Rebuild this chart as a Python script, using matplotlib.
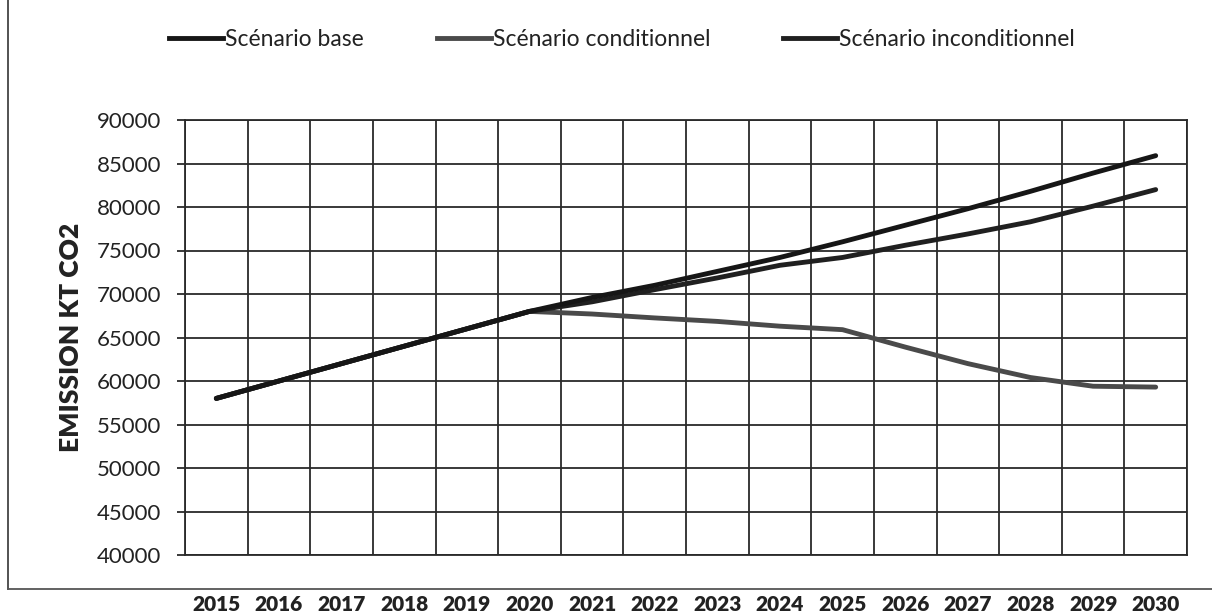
import matplotlib
matplotlib.use("Agg")
import matplotlib.pyplot as plt
from matplotlib.lines import Line2D
from matplotlib.ticker import MultipleLocator, FixedLocator

years = [2015, 2016, 2017, 2018, 2019, 2020, 2021, 2022, 2023, 2024, 2025,
         2026, 2027, 2028, 2029, 2030]
base = [58000, 60000, 62000, 64000, 66000, 68000, 69600, 71000, 72600, 74200,
        76000, 77900, 79800, 81800, 83900, 85900]
conditionnel = [58000, 60000, 62000, 64000, 66000, 68000, 67700, 67250, 66850,
                66300, 65900, 63900, 62000, 60400, 59400, 59300]
inconditionnel = [58000, 60000, 62000, 64000, 66000, 68000, 69100, 70500, 71850,
                  73300, 74200, 75600, 76900, 78300, 80100, 82000]
series_names = ["Scénario base", "Scénario conditionnel", "Scénario inconditionnel"]
y_label = "EMISSION KT CO2"

plt.rcParams['font.family'] = ['Lato', 'DejaVu Sans']

W, H = 1212, 615
fig = plt.figure(figsize=(W / 100, H / 100), dpi=100)
ax = fig.add_axes([185 / W, 1 - 555 / H, (1187 - 185) / W, (555 - 120) / H])

x = list(range(len(years)))
c_base = "#161616"
c_cond = "#4a4a4a"
c_incond = "#202020"
lw = 3.5
ax.plot(x, conditionnel, color=c_cond, lw=lw, solid_capstyle="round", zorder=3)
ax.plot(x, inconditionnel, color=c_incond, lw=lw, solid_capstyle="round", zorder=4)
ax.plot(x, base, color=c_base, lw=lw, solid_capstyle="round", zorder=5)

ax.set_xlim(-0.5, len(years) - 0.5)
ax.set_ylim(40000, 90000)
ax.yaxis.set_major_locator(MultipleLocator(5000))
ax.set_xticks(x)
ax.set_xticklabels([str(y) for y in years], fontweight="heavy", fontsize=15, color="#222222")
ax.xaxis.set_minor_locator(FixedLocator([i - 0.5 for i in range(len(years) + 1)]))
ax.grid(True, which="minor", axis="x", color="#2a2a2a", lw=1.3)
ax.grid(True, which="major", axis="y", color="#2a2a2a", lw=1.3)
ax.set_axisbelow(True)
ax.tick_params(axis="x", which="both", length=0, pad=29)
ax.tick_params(axis="y", length=6, width=1.3, color="#2a2a2a", pad=11, labelsize=16,
               labelcolor="#222222")
for s in ax.spines.values():
    s.set_color("#2a2a2a")
    s.set_linewidth(1.3)

ax.set_ylabel(y_label, fontsize=19, fontweight="heavy", color="#222222", labelpad=10)

# legend
handles = [Line2D([], [], color=c, lw=lw) for c in (c_base, c_cond, c_incond)]
fig.legend(handles, series_names, loc="center", bbox_to_anchor=(622 / W, 1 - 40 / H),
           ncol=3, frameon=False, fontsize=16.5, handlelength=2.35, handletextpad=0.08,
           columnspacing=3.2, labelcolor="#222222")

# outer frame lines
fig.add_artist(Line2D([8 / W, 8 / W], [1 - 589 / H, 1.0], transform=fig.transFigure,
                      color="#444444", lw=1.3))
fig.add_artist(Line2D([8 / W, 1.0], [1 - 589 / H, 1 - 589 / H], transform=fig.transFigure,
                      color="#555555", lw=1.3))

fig.savefig("out.png", dpi=100, facecolor="white")
